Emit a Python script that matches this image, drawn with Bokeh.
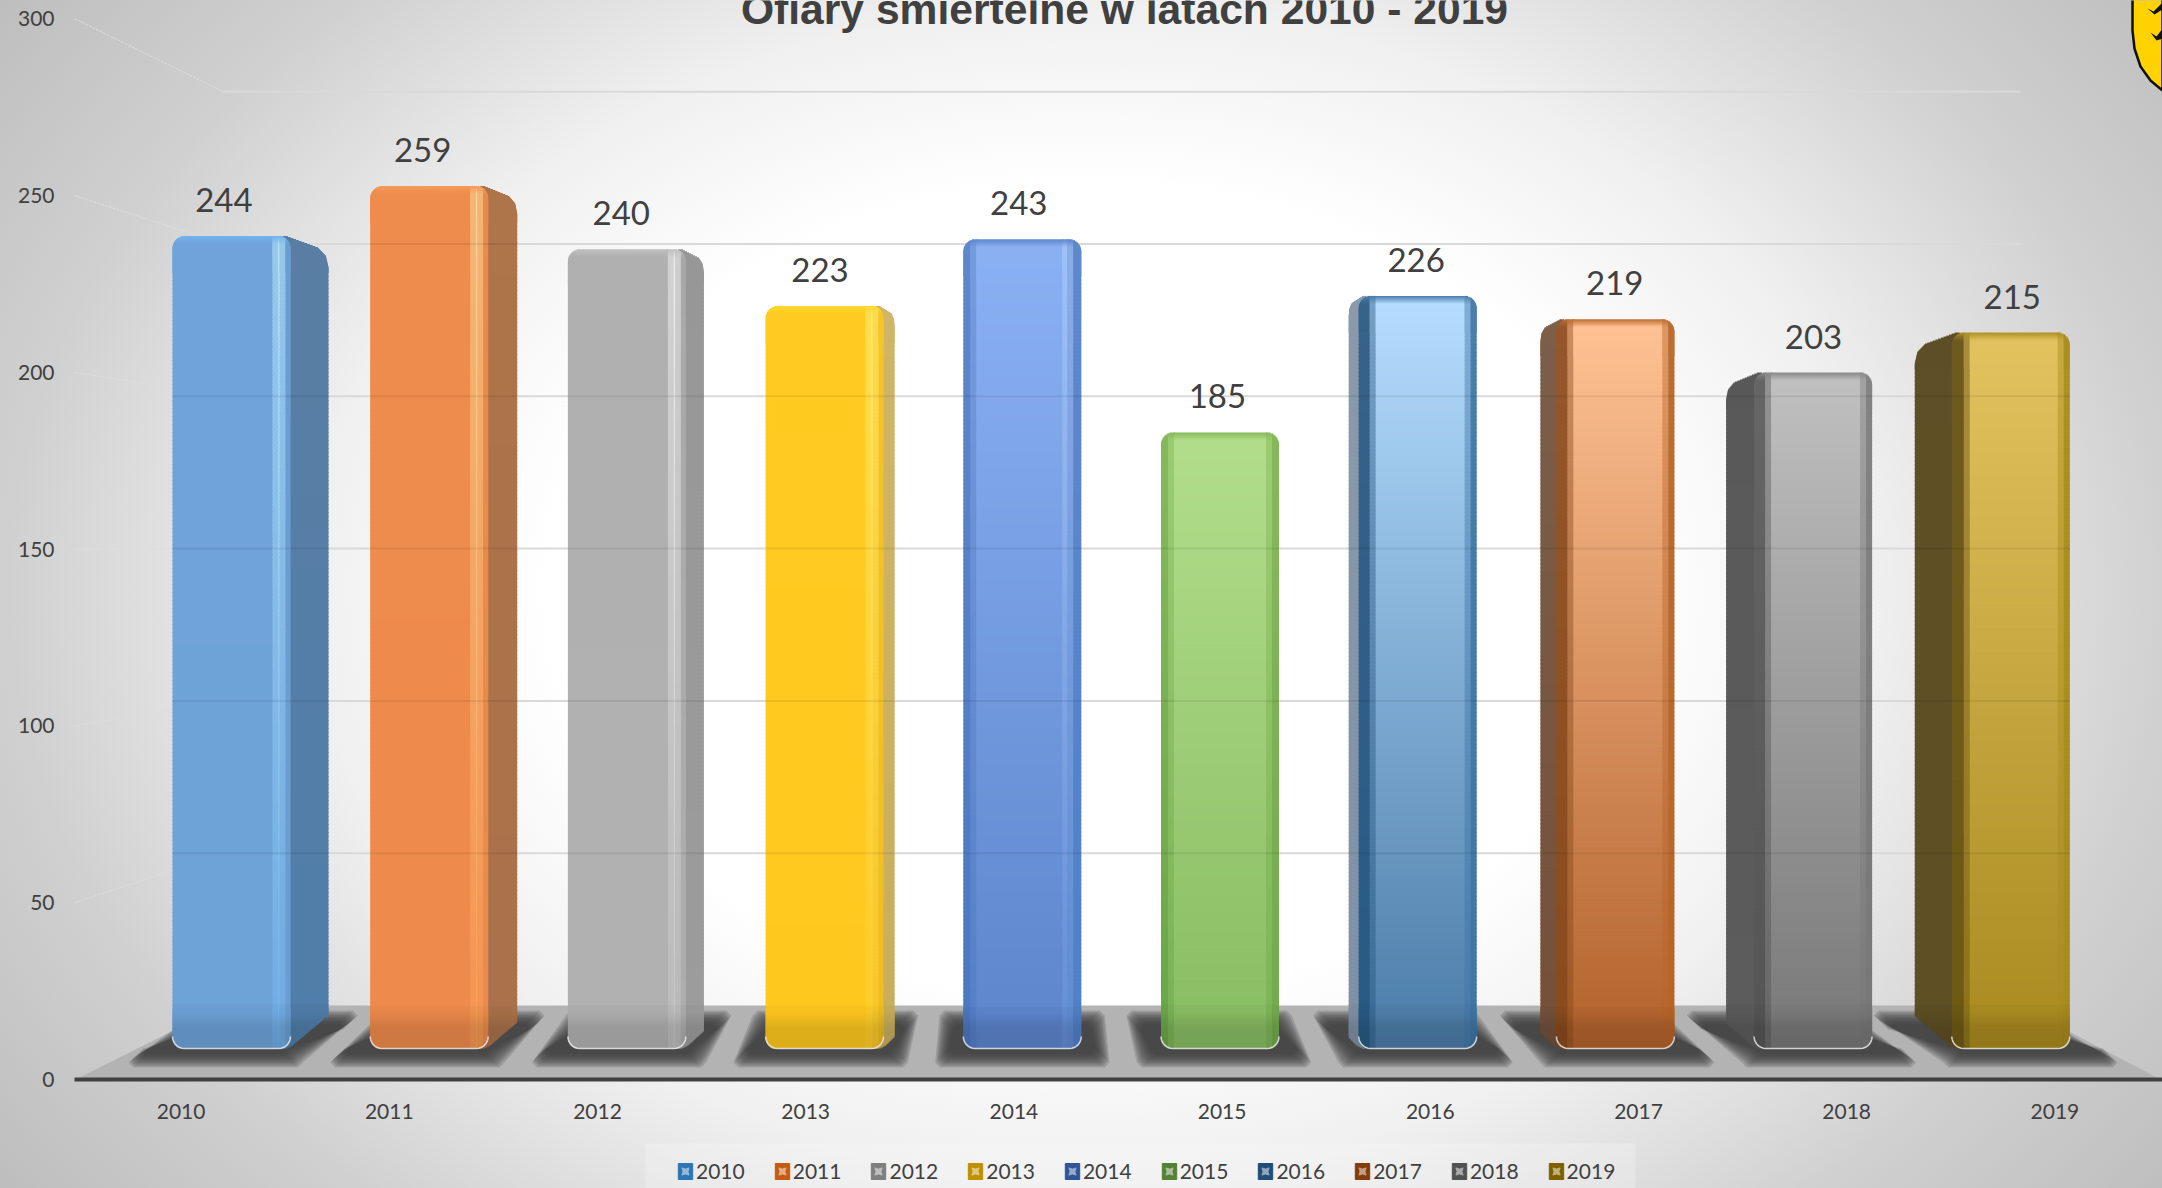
import numpy as np
from bokeh.plotting import figure
from bokeh.embed import file_html
from bokeh.resources import INLINE
from bokeh.core.properties import value
from bokeh.models import Range1d, LinearAxis, FixedTicker, Legend, LegendItem

YEARS = ["2010","2011","2012","2013","2014","2015","2016","2017","2018","2019"]
VICTIMS = [244,259,240,223,243,185,226,219,203,215]
Y_TICKS = [0,50,100,150,200,250,300]
TITLE = "Ofiary śmiertelne w latach 2010 - 2019"
LEGEND_COLORS = ["#2e75b6","#c55a11","#7f7f7f","#bf9000","#2f5597","#548235","#1f4e79","#843c0c","#525252","#7f6000"]

# style: side offset in px, bands (x0,x1,top,bottom), cap colour, side colours
W = 118
STYLE = [
 dict(side=38, cap="#74b2ee", sc=("#5a7ea3","#4f7eaa"), bands=[(0,103,"#6fa3d9","#6ea3d8"),(103,110,"#c0f0ff","#74b4ee"),(110,W,"#6a9ed2","#6a9ed2")]),
 dict(side=29, cap="#f79a58", sc=("#ae744a","#a9724a"), bands=[(0,103,"#ed8c4d","#ee8b4c"),(103,110,"#ffe0a0","#fb9d55"),(110,W,"#e88a4c","#ea8a4c")]),
 dict(side=18, cap="#c0c0c0", sc=("#979797","#9c9c9c"), bands=[(0,103,"#b0b0b0","#b1b1b1"),(103,110,"#f4f4f4","#c4c4c4"),(110,W,"#a8a8a8","#aeaeae")]),
 dict(side=11, cap="#ffd82e", sc=("#cfb566","#c8ae5c"), bands=[(0,103,"#ffcb22","#ffc81e"),(103,110,"#fff07a","#ffcf30"),(110,W,"#f6c428","#f0bc20")]),
 dict(side=0, cap="#5e87ca", sc=None, bands=[(0,10,"#5f87cb","#4c78c0"),(10,102,"#8bb1f3","#5c85cc"),(102,107,"#b4d2ff","#6c96dc"),(107,W,"#5f88cc","#5080c8")]),
 dict(side=0, cap="#86b95b", sc=None, bands=[(0,10,"#86b95b","#6ba548"),(10,108,"#b2de8b","#88bc62"),(108,W,"#86b95b","#72aa4c")]),
 dict(side=-10, cap="#4b7eab", sc=("#8a9aab","#7e90a4"), bands=[(0,14,"#38628a","#285a84"),(14,109,"#b5ddff","#4b7ca8"),(109,W,"#4b7eab","#3f76a6")]),
 dict(side=-16, cap="#bd6e33", sc=("#7d5e4a","#74503a"), bands=[(0,14,"#96572a","#8a4a1c"),(14,109,"#ffc294","#b2622c"),(109,W,"#bd6e33","#b86428")]),
 dict(side=-28, cap="#888888", sc=("#595959","#5c5c5c"), bands=[(0,14,"#666666","#555555"),(14,109,"#c0c0c0","#787878"),(109,W,"#848484","#777777")]),
 dict(side=-37, cap="#ad8f24", sc=("#5e4f28","#5e4f24"), bands=[(0,15,"#6e5a20","#6e5a14"),(15,109,"#e2c35f","#a98a1f"),(109,W,"#ad8f24","#a98a1f")]),
]

# page geometry of the reference
X0, X1, Y0, Y1 = 0, 2162, 0, 1188
# axis scale
AX_X, AX_DX, AX_Y, AX_DY = 180.6, 208.2, 1079, 3.536
# front plane of the columns
FR_X, FR_DX, FR_Y, FR_DY = 231.0, 197.7, 1048, 3.33
# back wall
BK_Y, BK_DY = 1005, 3.046
# value labels
LB_X, LB_DX = 223.4, 198.7

def yr(base, k): return Range1d(start=(base-Y1)/k, end=(base-Y0)/k)
def xr(base, k): return Range1d(start=(X0-base)/k, end=(X1-base)/k)

p = figure(width=X1-X0, height=Y1-Y0, output_backend="svg", toolbar_location=None,
           x_range=xr(AX_X,AX_DX), y_range=yr(AX_Y,AX_DY),
           x_axis_location=None, y_axis_location=None, min_border=0,
           background_fill_alpha=0, border_fill_alpha=0, outline_line_color=None)
p.grid.visible = False
p.extra_x_ranges = {"front": xr(FR_X,FR_DX), "label": xr(LB_X,LB_DX), "px": Range1d(X0,X1)}
p.extra_y_ranges = {"front": yr(FR_Y,FR_DY), "back": yr(BK_Y,BK_DY), "px": Range1d(Y1,Y0)}
PX = dict(x_range_name="px", y_range_name="px")
FR = dict(x_range_name="front", y_range_name="front")

def rgb(h): return np.array([int(h[i:i+2],16) for i in (1,3,5)],float)
def hexs(a):
    a = np.clip(np.round(a),0,255).astype(int)
    return ["#%02x%02x%02x"%tuple(c) for c in a]

# gridlines on the back wall and the faint wall diagonals
GL, GR = 223, 2020
for v in Y_TICKS[1:]:
    p.segment(x0=[GL],x1=[GR],y0=[v],y1=[v],x_range_name="px",y_range_name="back",line_color="#d9d9d9",line_width=2)
    p.line(x=[74,GL],y=[AX_Y-AX_DY*v, BK_Y-BK_DY*v],line_color="#dedede",line_width=1,line_dash="3 1",**PX)

# floor
p.patch(x=[75,2160,2019,GL],y=[1079,1079,BK_Y,BK_Y],fill_color="#b3b3b3",line_color=None,**PX)

# shadows
VP = 1020
for i in range(len(YEARS)):
    L = FR_X+FR_DX*i-W/2; R = L+W
    for ins in np.arange(-5,10,1.5):
        tl = L-22-(L-VP)*.055+ins; tr = R+22-(R-VP)*.055-ins
        br = R+22+(R-VP)*.02-ins; bl = L-22+(L-VP)*.02+ins
        c = 5
        p.patch(x=[tl+c,tr-c,tr,br,br-c,bl+c,bl,tl],
                y=[1015+ins,1015+ins,1015+ins+c,1062-ins-c,1062-ins,1062-ins,1062-ins-c,1015+ins+c],
                fill_color="#3c3c3c",fill_alpha=.19,line_color=None,**PX)

# legend panel
p.quad(left=[645],right=[1635],top=[1143],bottom=[1188],fill_color="#f8f8f8",fill_alpha=.3,line_color=None,**PX)

legend_items = []
def floor_shade(py):
    s = np.clip((py-1008)/22,0,1)
    return 1-.03*(py>BK_Y)-.1*s*s*(3-2*s)

OV = 1.2  # overlap of the slices, in px, hides the seams
for i,(yr_,v,st) in enumerate(zip(YEARS,VICTIMS,STYLE)):
    cx = float(i)
    hw = (W/2)/FR_DX
    # legend swatch and its bevel, carried by marks hidden under the column face
    sw = p.quad(left=[cx],right=[cx],top=[v*.5],bottom=[v*.5],fill_color=LEGEND_COLORS[i],line_color=LEGEND_COLORS[i],**FR)
    inner_c = hexs((rgb(LEGEND_COLORS[i])*.5+255*.5)[None])[0]
    mk = p.scatter(x=[cx],y=[v*.5],marker="square_pin",size=1,fill_color=inner_c,line_color=inner_c,**FR)
    legend_items.append(LegendItem(label=yr_,renderers=[sw,mk]))
    H = v*FR_DY           # column height in px
    r = 12.0
    edges = np.unique(np.concatenate([np.arange(0,36,1.0),np.arange(36,H-40,4.0),np.arange(H-40,H,1.0),[H]]))
    d0, d1 = edges[:-1], edges[1:]
    dm = (d0+d1)/2
    t = dm/H
    py = FR_Y-H+dm
    ins = np.zeros_like(dm)
    a = dm<r; ins[a] = r-np.sqrt(r*r-(r-dm[a])**2)
    b = (H-dm)<r; ins[b] = r-np.sqrt(r*r-(r-(H-dm[b]))**2)
    shade = floor_shade(py)[:,None]
    cap = rgb(st["cap"])
    low = np.maximum(H-d1-OV,0)
    # side face, slices between the face edge and the outline of the side
    off = st["side"]
    if off:
        drop = 8+abs(off)*.22
        ref = 0 if off<0 else W
        sgn = 1 if off>0 else -1
        a_ = abs(off)
        xo = np.interp(dm,[0,drop*.7,drop*1.2,drop*1.9,H-a_*.8-4,H-4,H],
                       [-4,a_*.72,a_*.93,a_,a_,2,-6])
        c0,c1 = rgb(st["sc"][0]),rgb(st["sc"][1])
        col = (c0[None]+(c1-c0)[None]*t[:,None])*shade
        inner = (ref-sgn*8)/FR_DX
        outer = (ref+sgn*xo)/FR_DX
        lo = cx-hw+np.minimum(inner,outer); hi = cx-hw+np.maximum(inner,outer)
        p.quad(left=lo,right=hi,top=(H-d0)/FR_DY,bottom=low/FR_DY,fill_color=hexs(col),line_color=None,**FR)
    # soft transitions between bands
    bands = []
    bs = st["bands"]
    for k,(x0,x1,ct,cb) in enumerate(bs):
        a0 = x0+(3 if k else 0); a1 = x1-(3 if k<len(bs)-1 else 0)
        bands.append((a0,a1,rgb(ct),rgb(cb)))
        if k<len(bs)-1:
            bands.append((a1,a1+6,(rgb(ct)+rgb(bs[k+1][2]))/2,(rgb(cb)+rgb(bs[k+1][3]))/2))
    for n,(x0,x1,ct,cb) in enumerate(bands):
        last = n==len(bands)-1
        lo = np.maximum(x0,ins); hi = np.minimum(x1+(0 if last else OV),W-ins)
        ok = hi>lo
        col = ct[None]+(cb-ct)[None]*t[:,None]
        m = np.clip(dm/8,0,1)[:,None]
        col = (cap[None]*(1-m)+col*m)*shade
        p.quad(left=(cx-hw+lo[ok]/FR_DX),right=(cx-hw+hi[ok]/FR_DX),
               top=((H-d0)/FR_DY)[ok],bottom=(low/FR_DY)[ok],
               fill_color=hexs(col[ok]),line_color=None,**FR)
    # light rim along the base of the column
    th = np.linspace(0,np.pi/2,8)
    bx = list(cx-hw+(r-r*np.cos(th))/FR_DX)+list(cx+hw-(r-r*np.sin(th))/FR_DX)
    by = list((r-r*np.sin(th))/FR_DY)+list((r-r*np.cos(th))/FR_DY)
    p.line(x=bx,y=by,line_color="#e6e6e6",line_width=1.5,line_alpha=.85,**FR)
    # wall gridlines faintly showing through the column
    for g in Y_TICKS[1:]:
        gy = BK_DY*g
        if (BK_Y-gy) > FR_Y-H+10:
            L = FR_X+FR_DX*i-W/2; e0 = L+min(off,0); e1 = L+W+max(off,0)
            p.segment(x0=[e0],x1=[e1],y0=[g],y1=[g],x_range_name="px",y_range_name="back",line_color="#000000",line_alpha=.07,line_width=2)

# value labels
p.text(x=list(range(len(YEARS))),y=VICTIMS,text=[str(v) for v in VICTIMS],x_range_name="label",y_range_name="front",
       y_offset=-36,text_align="center",text_baseline="middle",text_font=value("Lato"),text_font_size="33px",text_color="#404040")

# coat of arms, cut by the page edge
p.patch(x=[2132,2132,2134,2140,2150,2162,2162],y=[-2,30,48,66,80,90,-2],fill_color="#ffd200",line_color="#111111",line_width=2.5,**PX)
p.patch(x=[2147,2153,2162,2162,2154],y=[8,11,2,9,14],fill_color="#111111",line_color=None,**PX)
p.patch(x=[2150,2156,2162,2162,2156],y=[32,36,28,38,40],fill_color="#111111",line_color=None,**PX)

# title
p.text(x=[1124],y=[8],text=[TITLE],text_align="center",text_baseline="alphabetic",text_font=value("Liberation Sans"),
       text_font_style="bold",text_font_size="42.6px",text_color="#404040",**PX)

# axes inside the frame
ya = LinearAxis(ticker=FixedTicker(ticks=Y_TICKS),fixed_location=(64-AX_X)/AX_DX,axis_line_color=None,
                major_tick_line_color=None,minor_tick_line_color=None,major_label_standoff=4,
                major_label_text_font="Lato",major_label_text_font_size="21px",major_label_text_color="#404040")
p.add_layout(ya,"left")
xa = LinearAxis(ticker=FixedTicker(ticks=list(range(len(YEARS)))),fixed_location=0,
                major_label_overrides={i:y for i,y in enumerate(YEARS)},
                axis_line_color="#404040",axis_line_width=4,bounds=((74-AX_X)/AX_DX,(X1-AX_X)/AX_DX),
                major_tick_line_color=None,minor_tick_line_color=None,major_label_standoff=18,
                major_label_text_font="Lato",major_label_text_font_size="21px",major_label_text_color="#404040")
p.add_layout(xa,"below")

# legend
leg = Legend(items=legend_items,orientation="horizontal",location=(676,5),padding=0,margin=0,spacing=28,
             glyph_width=18,glyph_height=20,label_standoff=2,label_text_font="Lato",label_text_font_size="21px",
             label_text_color="#404040",background_fill_alpha=0,border_line_color=None)
p.add_layout(leg,"center")

bg = ("<style>html{height:100%;background:radial-gradient(ellipse 1200px 900px at 1090px 590px,"
      "#ffffff 0%,#ffffff 45%,#f0f0f0 65%,#d0d0d0 90%,#bebebe 112%) no-repeat;}</style></head>")
open("out.html","w").write(file_html(p,INLINE).replace("</head>",bg,1))
